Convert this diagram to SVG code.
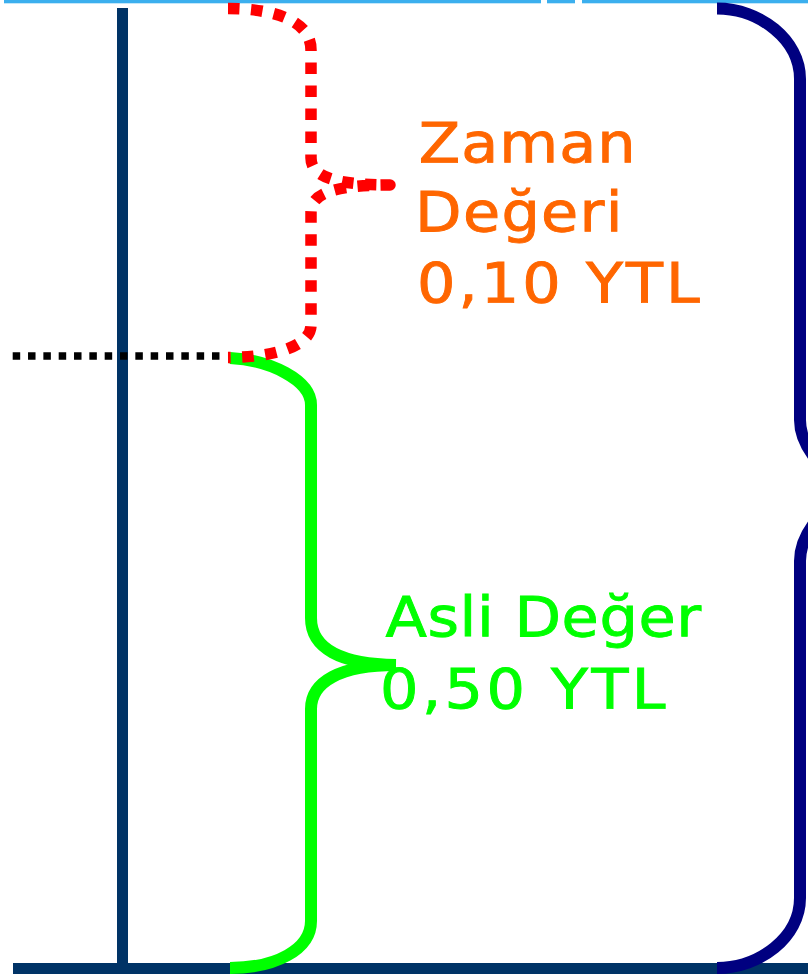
<svg xmlns="http://www.w3.org/2000/svg" width="808" height="974" viewBox="0 0 808 974">
  <style>
    .rule { fill: #3BAFEE; }
    .axis { fill: #003366; }
    .brace { fill: none; stroke-linecap: butt; stroke-linejoin: round; }
    .lbl { font-family: "DejaVu Sans", Verdana, "Liberation Sans", sans-serif; font-size: 56px; stroke-width: 0.9px; stroke-linejoin: miter; }
    .orange { fill: #FF6600; stroke: #FF6600; }
    .green { fill: #00FF00; stroke: #00FF00; }
  </style>
  <rect width="808" height="974" fill="#FFFFFF"/>
  <g id="top-rule">
    <rect class="rule" x="4" y="0" width="537" height="3.3"/>
    <rect class="rule" x="547" y="0" width="28" height="3.3"/>
    <rect class="rule" x="582" y="0" width="226" height="3.3"/>
  </g>
  <g id="axes">
    <rect class="axis" x="117" y="8" width="11" height="966"/>
    <rect class="axis" x="13" y="963" width="795" height="11"/>
  </g>
  <g id="connectors">
    <g id="level-line">
      <line x1="12.7" y1="356" x2="222" y2="356" stroke="#000000" stroke-width="7.4" stroke-dasharray="7.5 7.83"/>
    </g>
    <g id="brace-asli">
      <path class="brace" stroke="#00FF00" stroke-width="12" d="M230,358 C270,360 311,380 311,405 L311,618 C311,648 340,664 396,665 M396,665 C340,665 311,682 311,709 L311,921 C311,950 275,968 230,968"/>
    </g>
    <g id="brace-zaman">
      <path class="brace" stroke="#FF0000" stroke-width="11.5" stroke-dasharray="11.5 11.5" d="M228,8.5 C268,8.5 311,18 311,50 L311,158 C311,175 330,185 390,185 C330,185 311,195 311,212 L311,325 C311,348 268,357.5 228,357.5"/>
    </g>
    <g id="brace-total">
      <path class="brace" stroke="#000080" stroke-width="12" d="M717,8.6 C760,8.6 800,40 800,79 L800,420 Q800,455 851,490 Q800,525 800,561 L800,898 C800,937 760,968 717,968"/>
    </g>
  </g>
  <g id="label-zaman" transform="translate(421,0) scale(1.08,1)">
    <text class="lbl orange">
      <tspan x="-2.2" y="162" letter-spacing="1">Zaman</tspan>
      <tspan x="-5.5" y="231" letter-spacing="1.2">Değeri</tspan>
      <tspan x="-3.7" y="302" letter-spacing="2.8">0,10 YTL</tspan>
    </text>
  </g>
  <g id="label-asli" transform="translate(386,0) scale(1.08,1)">
    <text class="lbl green">
      <tspan x="-0.5" y="636" letter-spacing="0.6">Asli Değer</tspan>
      <tspan x="-5.6" y="708" letter-spacing="3.2">0,50 YTL</tspan>
    </text>
  </g>
</svg>
